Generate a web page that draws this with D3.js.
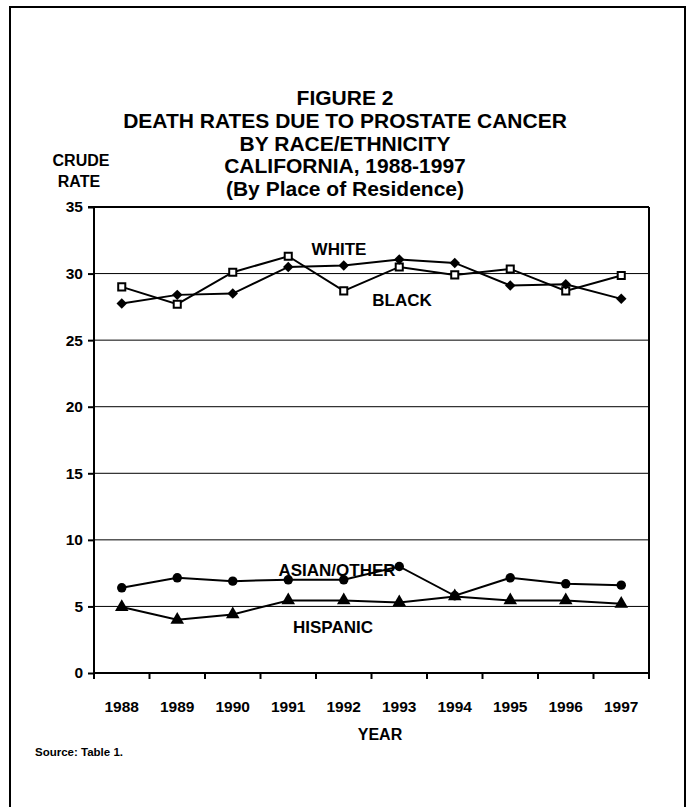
<!DOCTYPE html>
<html><head><meta charset="utf-8">
<script src="https://cdn.jsdelivr.net/npm/d3@7"></script>
<style>html,body{margin:0;padding:0;background:#fff;}svg{display:block;font-family:"Liberation Sans",Arial,sans-serif;font-weight:bold;}</style>
</head><body>
<script>
const years = ["1988","1989","1990","1991","1992","1993","1994","1995","1996","1997"];
const white = [29.0,27.7,30.1,31.3,28.7,30.5,29.9,30.35,28.7,29.85];
const black = [27.75,28.4,28.5,30.5,30.6,31.05,30.8,29.1,29.2,28.1];
const asian = [6.4,7.15,6.9,7.0,7.0,8.0,5.8,7.15,6.7,6.6];
const hispanic = [4.95,4.0,4.4,5.45,5.45,5.3,5.75,5.45,5.45,5.2];
const yTicks = [0,5,10,15,20,25,30,35];
const titleLines = ["FIGURE 2","DEATH RATES DUE TO PROSTATE CANCER","BY RACE/ETHNICITY","CALIFORNIA, 1988-1997","(By Place of Residence)"];

const W = 688, H = 807;
const svg = d3.select("body").append("svg").attr("width", W).attr("height", H);

// outer frame
svg.append("rect").attr("x", 10).attr("y", 7).attr("width", 675).attr("height", 830)
  .attr("fill", "none").attr("stroke", "#000").attr("stroke-width", 2);

// title
svg.append("g").selectAll("text").data(titleLines).join("text")
  .attr("x", 345).attr("y", (d, i) => 105 + i * 22.8)
  .attr("text-anchor", "middle").attr("font-size", 21).text(d => d);

const L = 94, R = 649, T = 207, B = 673;
const x = d3.scaleBand().domain(years).range([L, R]);
const y = d3.scaleLinear().domain([0, 35]).range([B, T]);

// gridlines
svg.append("g").selectAll("line").data(yTicks.filter(v => v > 0 && v < 35)).join("line")
  .attr("x1", L).attr("x2", R).attr("y1", d => y(d)).attr("y2", d => y(d))
  .attr("stroke", "#000").attr("stroke-width", 1);

// frame top & right
svg.append("line").attr("x1", L).attr("x2", R).attr("y1", y(35)).attr("y2", y(35)).attr("stroke", "#000").attr("stroke-width", 2);
svg.append("line").attr("x1", R).attr("x2", R).attr("y1", y(35)).attr("y2", B + 6).attr("stroke", "#000").attr("stroke-width", 2);

// y axis
const yAxis = d3.axisLeft(y).tickValues(yTicks).tickSize(6).tickPadding(5);
const gy = svg.append("g").attr("transform", `translate(${L},0)`).call(yAxis);
gy.select(".domain").attr("stroke-width", 2).attr("d", `M-6,${y(35)}H0V${B + 6}`);
gy.selectAll(".tick line").attr("stroke-width", 2);
gy.selectAll(".tick text").attr("font-size", 15.5).attr("font-family", "Liberation Sans, Arial, sans-serif").attr("font-weight", "bold").attr("fill", "#000");

// x axis
const xb = years.map(d => x(d)).concat([R]);
const gx = svg.append("g");
gx.append("line").attr("x1", L).attr("x2", R).attr("y1", B).attr("y2", B).attr("stroke", "#000").attr("stroke-width", 2);
gx.selectAll("line.tk").data(xb).join("line").attr("class", "tk")
  .attr("x1", d => d).attr("x2", d => d).attr("y1", B).attr("y2", B + 6)
  .attr("stroke", "#000").attr("stroke-width", 2);
gx.selectAll("text").data(years).join("text")
  .attr("x", d => x(d) + x.bandwidth() / 2).attr("y", 712)
  .attr("text-anchor", "middle").attr("font-size", 15.5).text(d => d);

// axis titles
svg.append("text").attr("x", 81).attr("y", 166).attr("text-anchor", "middle").attr("font-size", 16).text("CRUDE");
svg.append("text").attr("x", 79).attr("y", 187).attr("text-anchor", "middle").attr("font-size", 16).text("RATE");
svg.append("text").attr("x", 380).attr("y", 740).attr("text-anchor", "middle").attr("font-size", 16).text("YEAR");
svg.append("text").attr("x", 35).attr("y", 756).attr("font-size", 11.5).text("Source:  Table 1.");

const cx = d => x(d) + x.bandwidth() / 2;
const line = d3.line().x((d, i) => cx(years[i])).y(d => y(d));

function drawSeries(vals, sym, size, fill, rot) {
  svg.append("path").datum(vals).attr("d", line).attr("fill", "none").attr("stroke", "#000").attr("stroke-width", 2);
  svg.append("g").selectAll("path").data(vals).join("path")
    .attr("transform", (d, i) => `translate(${cx(years[i])},${y(d)}) rotate(${rot || 0})`)
    .attr("d", d3.symbol(sym, size))
    .attr("fill", fill).attr("stroke", "#000").attr("stroke-width", fill === "#fff" ? 2 : 0);
}
drawSeries(white, d3.symbolSquare, 50, "#fff");
drawSeries(black, d3.symbolSquare, 55, "#000", 45);
drawSeries(asian, d3.symbolCircle, 70, "#000");
drawSeries(hispanic, d3.symbolTriangle, 80, "#000");

// series labels
const labs = [["WHITE", 339, 255], ["BLACK", 402, 306], ["ASIAN/OTHER", 337, 576], ["HISPANIC", 333, 633]];
svg.append("g").selectAll("text").data(labs).join("text")
  .attr("x", d => d[1]).attr("y", d => d[2]).attr("text-anchor", "middle").attr("font-size", 17).text(d => d[0]);
</script>
</body></html>
